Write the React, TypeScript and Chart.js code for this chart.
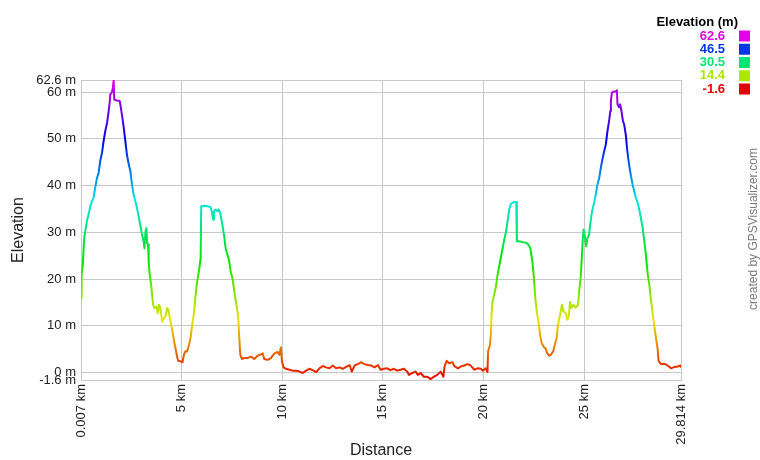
import React, { useEffect, useRef } from "react";
import { Chart, registerables } from "chart.js";

Chart.register(...registerables);

const distanceKm = [
  0.007, 0.02, 0.05, 0.1, 0.13, 0.17, 0.22, 0.3, 0.38, 0.47, 0.55, 0.63, 0.71, 0.8, 0.88, 0.96, 1.05, 1.13, 1.21, 1.3,
  1.38, 1.43, 1.46, 1.54, 1.59, 1.63, 1.66, 1.79, 1.93, 1.99, 2.04, 2.13, 2.21, 2.29, 2.38, 2.46, 2.54, 2.62, 2.71, 2.79,
  2.87, 2.96, 3.04, 3.12, 3.16, 3.21, 3.26, 3.29, 3.34, 3.37, 3.42, 3.49, 3.54, 3.59, 3.65, 3.75, 3.82, 3.89, 3.95, 4.04,
  4.12, 4.2, 4.29, 4.35, 4.42, 4.49, 4.55, 4.62, 4.7, 4.78, 4.83, 4.95, 5.05, 5.12, 5.2, 5.28, 5.37, 5.45, 5.53, 5.61,
  5.7, 5.78, 5.86, 5.95, 5.98, 6.11, 6.28, 6.45, 6.58, 6.61, 6.69, 6.78, 6.86, 6.94, 7.03, 7.11, 7.19, 7.28, 7.36, 7.44,
  7.53, 7.62, 7.7, 7.78, 7.83, 7.87, 7.92, 8.0, 8.11, 8.28, 8.45, 8.61, 8.78, 8.95, 9.03, 9.11, 9.28, 9.44, 9.61, 9.78,
  9.86, 9.94, 9.99, 10.07, 10.19, 10.36, 10.52, 10.69, 10.86, 11.02, 11.19, 11.35, 11.52, 11.69, 11.85, 12.02, 12.18, 12.35, 12.52, 12.68,
  12.85, 13.01, 13.18, 13.35, 13.46, 13.6, 13.76, 13.93, 14.09, 14.26, 14.43, 14.59, 14.76, 14.89,
  15.05, 15.22, 15.38, 15.55, 15.71, 15.88, 16.05, 16.21, 16.3, 16.46, 16.63, 16.74, 16.88, 17.04, 17.21, 17.38, 17.54, 17.71, 17.87, 18.01,
  18.07, 18.17, 18.29, 18.46, 18.57, 18.74, 18.87, 19.04, 19.2, 19.37, 19.54, 19.7, 19.87, 19.97, 20.12, 20.2, 20.23, 20.32, 20.37, 20.4,
  20.45, 20.53, 20.62, 20.7, 20.78, 20.86, 20.95, 21.03, 21.11, 21.2, 21.28, 21.36, 21.45, 21.53, 21.63, 21.66, 21.78, 21.94, 22.11, 22.23,
  22.33,
  22.43, 22.48, 22.54, 22.59, 22.67, 22.76, 22.81, 22.89, 23.01, 23.09, 23.17, 23.26, 23.37, 23.47, 23.54, 23.64, 23.7, 23.77, 23.84, 23.9,
  23.97, 24.09, 24.17, 24.24, 24.3, 24.37, 24.47, 24.58, 24.7, 24.77, 24.83, 24.88, 24.93, 24.97, 25.03, 25.1, 25.17, 25.25, 25.3, 25.37,
  25.43, 25.5, 25.58, 25.66, 25.75, 25.83, 25.91, 26.0, 26.08, 26.16, 26.25, 26.3, 26.33, 26.38, 26.46, 26.58, 26.63, 26.66, 26.73, 26.79,
  26.86, 26.93, 26.99, 27.08, 27.13, 27.19, 27.26, 27.33, 27.41, 27.49, 27.57, 27.66, 27.74, 27.82, 27.91, 27.99, 28.07, 28.16, 28.24, 28.32,
  28.41, 28.49, 28.57, 28.65, 28.7, 28.82, 28.99, 29.15, 29.32, 29.49, 29.65, 29.78, 29.814,
];

const elevationM = [
  15.9, 18.8, 21.0, 23.0, 26.0, 29.0, 30.2, 32.4, 33.8, 35.6, 36.6, 37.4, 39.5, 41.6, 42.7, 45.2, 47.0, 49.5, 51.6, 53.4,
  55.9, 57.7, 59.5, 59.9, 61.0, 62.6, 58.4, 58.2, 58.1, 56.6, 55.2, 52.4, 49.5, 46.6, 44.5, 43.1, 40.2, 38.1, 36.6, 35.2,
  33.4, 31.3, 29.5, 28.0, 26.6, 30.2, 30.9, 27.7, 27.4, 23.8, 20.9, 18.8, 16.6, 14.5, 13.8, 14.1, 12.7, 14.5, 13.8, 10.9,
  11.6, 12.0, 13.8, 13.4, 11.6, 10.2, 8.8, 7.0, 5.2, 3.4, 2.5, 2.4, 2.2, 3.8, 4.6, 4.5, 5.9, 7.4, 10.2, 12.4,
  16.6, 19.5, 21.6, 24.5, 35.6, 35.7, 35.6, 35.4, 32.7, 34.5, 34.9, 34.5, 34.9, 33.8, 31.6, 29.5, 26.6, 25.2, 24.1, 21.6,
  20.2, 17.4, 15.2, 13.1, 10.9, 7.4, 3.8, 2.9, 3.1, 3.1, 3.4, 2.9, 3.6, 3.9, 4.1, 2.9, 2.7, 3.1, 4.1, 4.4,
  3.8, 5.4, 2.4, 1.1, 0.8, 0.6, 0.4, 0.4, 0.2, -0.1, 0.4, 0.8, 0.5, 0.1, 0.9, 1.4, 1.1, 0.9, 1.5, 0.9,
  1.1, 0.8, 1.2, 1.6, 0.2, 1.5, 1.8, 2.2, 1.8, 1.6, 1.5, 1.1, 1.6, 0.6,
  0.8, 0.9, 0.5, 0.8, 0.4, 0.6, 0.8, 0.2, -0.5, -0.1, 0.2, -0.5, -0.1, -0.9, -0.9, -1.4, -0.9, -0.5, 0.2, -0.9,
  1.3, 2.5, 2.0, 2.2, 1.3, 0.9, 1.3, 1.5, 1.8, 1.5, 0.6, 0.9, 0.8, 0.4, 0.9, 0.1, 4.5, 5.9, 8.1, 12.4,
  15.2, 16.6, 18.4, 20.9, 22.7, 24.5, 26.6, 28.4, 29.9, 32.4, 34.9, 36.1, 36.3, 36.5, 36.5, 28.1, 28.1, 27.9, 27.8, 27.4,
  26.6,
  23.8, 21.6, 18.1, 15.2, 12.4, 10.2, 8.1, 6.3, 5.4, 5.1, 4.1, 3.6, 3.9, 4.6, 5.9, 7.4, 10.2, 11.6, 13.1, 14.5,
  13.1, 12.7, 11.3, 12.0, 15.1, 13.8, 14.5, 13.9, 14.5, 18.1, 20.2, 24.1, 28.1, 30.6, 29.5, 27.0, 28.8, 29.5, 31.6, 33.8,
  35.2, 36.3, 38.1, 40.2, 41.6, 43.8, 45.6, 47.4, 48.8, 51.6, 54.1, 55.9, 58.1, 59.9, 60.1, 60.2, 60.4, 57.4, 56.8, 57.4,
  55.9, 53.8, 53.1, 50.6, 48.1, 45.9, 43.8, 42.0, 40.2, 38.8, 37.4, 36.3, 34.9, 33.1, 30.9, 28.1, 25.2, 21.0, 18.8, 15.6,
  12.4, 9.9, 7.4, 5.2, 2.5, 1.8, 1.9, 1.5, 0.9, 1.2, 1.3, 1.5, 1.2,
];

const yTickValues = [-1.6, 0, 10, 20, 30, 40, 50, 60, 62.6];
const xTickValues = [0.007, 5, 10, 15, 20, 25, 29.814];
const legendValues = [62.6, 46.5, 30.5, 14.4, -1.6];
const legendTitle = "Elevation (m)";
const creditText = "created by GPSVisualizer.com";
const yAxisTitle = "Elevation";
const xAxisTitle = "Distance";

const ELEV_MIN = -1.6;
const ELEV_MAX = 62.6;
const FONT = '"Liberation Sans", Arial, Helvetica, sans-serif';

function colorFor(v: number): string {
  const t = (v - ELEV_MIN) / (ELEV_MAX - ELEV_MIN);
  const h = Math.max(0, Math.min(1, t)) * 300;
  return `hsl(${h.toFixed(1)}, 100%, 45%)`;
}

const legendPlugin = {
  id: "gpsLegend",
  afterDraw(chart: any) {
    const ctx = chart.ctx as CanvasRenderingContext2D;
    ctx.save();
    ctx.textAlign = "right";
    ctx.textBaseline = "middle";
    ctx.font = `bold 13px ${FONT}`;
    ctx.fillStyle = "#000";
    ctx.fillText(legendTitle, 738, 22);
    legendValues.forEach((v, i) => {
      const y = 36 + i * 13.25;
      const c = colorFor(v);
      ctx.fillStyle = c;
      ctx.fillText(String(v), 725, y);
      ctx.fillRect(739, y - 5.5, 11, 11);
    });
    ctx.translate(754, 229);
    ctx.rotate(-Math.PI / 2);
    ctx.textAlign = "center";
    ctx.font = `12px ${FONT}`;
    ctx.fillStyle = "#7a7a7a";
    ctx.fillText(creditText, 0, 0);
    ctx.restore();
  },
};

export default function App() {
  const canvasRef = useRef<HTMLCanvasElement | null>(null);

  useEffect(() => {
    const canvas = canvasRef.current;
    if (!canvas) return;
    let gradCache: any = null;
    let gradKey = "";
    const chart = new Chart(canvas, {
      type: "line",
      data: {
        datasets: [
          {
            data: distanceKm.map((d, i) => ({ x: d, y: elevationM[i] })),
            borderWidth: 2,
            pointRadius: 0,
            tension: 0,
            borderJoinStyle: "round",
            borderCapStyle: "round",
            fill: false,
            borderColor: (context: any) => {
              const ch = context.chart;
              const area = ch.chartArea;
              const ys = ch.scales && ch.scales.y;
              if (!area || !ys) return "#e60000";
              const y0 = ys.getPixelForValue(ELEV_MIN);
              const y1 = ys.getPixelForValue(ELEV_MAX);
              const key = `${y0}-${y1}`;
              if (gradCache && gradKey === key) return gradCache;
              const g = ch.ctx.createLinearGradient(0, y0, 0, y1);
              const n = 40;
              for (let k = 0; k <= n; k++) {
                const v = ELEV_MIN + ((ELEV_MAX - ELEV_MIN) * k) / n;
                g.addColorStop(k / n, colorFor(v));
              }
              gradCache = g;
              gradKey = key;
              return g;
            },
          },
        ],
      },
      options: {
        animation: false,
        responsive: false,
        devicePixelRatio: 1,
        parsing: true,
        layout: { padding: { left: 0, right: 79, top: 80, bottom: 0 } },
        plugins: {
          legend: { display: false },
          tooltip: { enabled: false },
        },
        scales: {
          x: {
            type: "linear",
            min: 0.007,
            max: 29.814,
            afterBuildTicks: (s: any) => {
              s.ticks = xTickValues.map((v) => ({ value: v }));
            },
            afterFit: (s: any) => {
              s.height = 80;
            },
            ticks: {
              autoSkip: false,
              minRotation: 90,
              maxRotation: 90,
              padding: 4,
              color: "#222",
              font: { family: FONT, size: 13 },
              callback: (v: any) => `${v} km`,
            },
            grid: { color: "#c8c8c8", lineWidth: 1, drawTicks: false },
            border: { color: "#c8c8c8" },
            title: {
              display: true,
              text: xAxisTitle,
              color: "#222",
              font: { family: FONT, size: 16 },
              padding: { top: -2, bottom: 0 },
            },
          },
          y: {
            type: "linear",
            min: ELEV_MIN,
            max: ELEV_MAX,
            afterBuildTicks: (s: any) => {
              s.ticks = yTickValues.map((v) => ({ value: v }));
            },
            afterFit: (s: any) => {
              s.width = 81;
            },
            ticks: {
              autoSkip: false,
              padding: 5,
              color: "#222",
              font: { family: FONT, size: 13 },
              callback: (v: any) => `${v} m`,
            },
            grid: { color: "#c8c8c8", lineWidth: 1, drawTicks: false },
            border: { color: "#c8c8c8" },
            title: {
              display: true,
              text: yAxisTitle,
              color: "#222",
              font: { family: FONT, size: 16 },
              padding: { top: 9, bottom: 0 },
            },
          },
        },
      },
      plugins: [legendPlugin],
    } as any);
    return () => {
      chart.destroy();
    };
  }, []);

  return (
    <div style={{ position: "absolute", left: 0, top: 0, width: 760, height: 460, background: "#fff" }}>
      <canvas ref={canvasRef} width={760} height={460} style={{ width: 760, height: 460, display: "block" }} />
    </div>
  );
}
